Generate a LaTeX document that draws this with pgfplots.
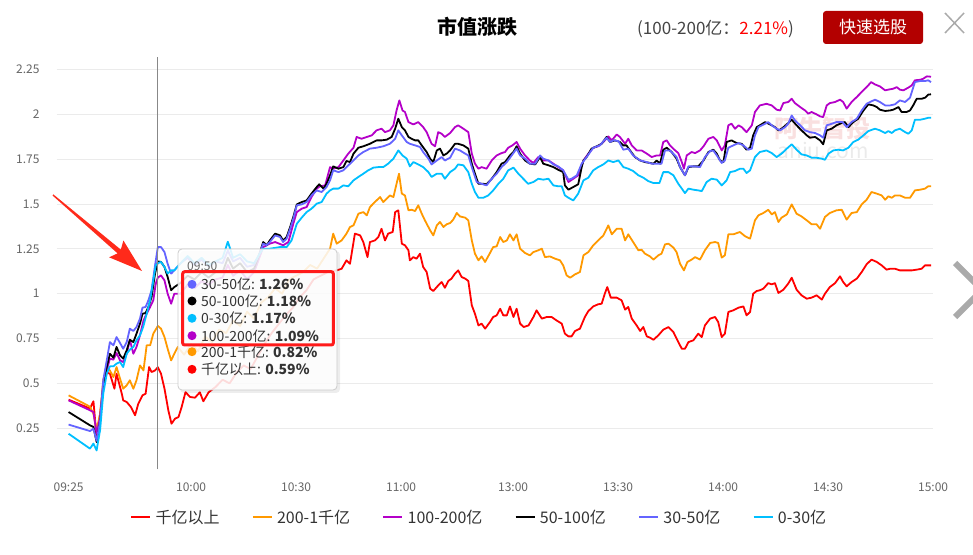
\documentclass[border=0pt]{standalone}
\usepackage{fontspec}
\setmainfont{Noto Sans CJK SC}
\usepackage{pgfplots}
\pgfplotsset{compat=1.18}
\definecolor{sRed}{HTML}{FF0000}
\definecolor{sOrange}{HTML}{FF9900}
\definecolor{sPurple}{HTML}{B400C8}
\definecolor{sBlack}{HTML}{000000}
\definecolor{sBlue}{HTML}{6464FF}
\definecolor{sCyan}{HTML}{00BFFF}
\definecolor{gridgray}{HTML}{EBEBEB}
\definecolor{tickgray}{HTML}{666666}
\definecolor{txtgray}{HTML}{333333}
\definecolor{subgray}{HTML}{444444}
\definecolor{btnred}{HTML}{B30000}
\definecolor{arrowred}{HTML}{FF2A1A}
\definecolor{annored}{HTML}{FF1A1A}
\definecolor{tipborder}{HTML}{CCCCCC}
\definecolor{cursorgray}{HTML}{888888}
\definecolor{closegray}{HTML}{AAAAAA}
\definecolor{wmpink}{HTML}{F9E0E0}
\definecolor{wmgray}{HTML}{EBEBEB}
\newcommand{\fs}[1]{\fontsize{#1}{#1}\selectfont}
\begin{document}
\begin{tikzpicture}[x=1pt,y=1pt]
\useasboundingbox (0,0) rectangle (973,554);
% watermark
\node[text=wmpink, font=\fs{24}\bfseries] at (822,426) {阿牛智投};
\node[text=wmgray, font=\fs{21}] at (823,403) {aniu.com};
\begin{axis}[
  at={(56.7pt,81pt)}, anchor=south west,
  scale only axis, width=876.4pt, height=416pt,
  xmin=-3.4, xmax=247, ymin=0, ymax=2.32,
  axis line style={draw=none}, tick style={draw=none},
  major tick length=0pt,
  ymajorgrids, major grid style={color=gridgray, line width=1pt},
  xtick={0,35,65,95,127,157,187,217,247},
  xticklabels={09:25,10:00,10:30,11:00,13:00,13:30,14:00,14:30,15:00},
  ytick={0.25,0.5,0.75,1,1.25,1.5,1.75,2,2.25},
  yticklabels={0.25,0.5,0.75,1,1.25,1.5,1.75,2,2.25},
  xticklabel style={font=\fs{12}, text=tickgray, inner sep=0pt, yshift=-10pt},
  yticklabel style={font=\fs{12}, text=tickgray, inner sep=0pt, xshift=-17pt},
  legend style={at={(0.482,-0.106)}, anchor=center, legend columns=6, draw=none, fill=none,
    font=\fs{16}, text=txtgray, /tikz/every even column/.append style={column sep=30pt},
    /tikz/every odd column/.append style={column sep=2pt}},
  legend image code/.code={\draw[#1, line width=2.5pt] (0pt,0pt) -- (19pt,0pt);},
  every axis plot/.append style={line width=1.8pt, line join=round, mark=none},
]
\addplot[color=sRed] coordinates {
(0,0.409) (6.1,0.36) (7.1,0.40) (8,0.20) (9,0.33) (9.9,0.48) (10.9,0.56) (11.8,0.554) (13.1,0.47) (13.7,0.554) (15.2,0.442) (15.6,0.405) (16.6,0.396) (17.8,0.368) (19,0.322) (19.9,0.386) (21.1,0.433) (22,0.442) (23,0.591) (23.7,0.563) (24.7,0.572) (25.5,0.59) (26.4,0.554) (27.4,0.47) (28.5,0.349) (29.4,0.275) (30.4,0.303) (31.4,0.312) (32.3,0.368) (33.4,0.451) (34.7,0.424) (36.1,0.42) (37.5,0.45) (38.5,0.40) (40,0.45) (42,0.48) (44,0.52) (46,0.50) (48,0.56) (50,0.60) (52,0.58) (54,0.65) (56,0.72) (58,0.78) (60,0.83) (62,0.88) (64,0.92) (66,0.98) (68,1.02) (70,1.08) (72,1.10) (74,1.12) (76.6,1.13) (78,1.139) (79.4,1.186) (80.4,1.167) (81.8,1.335) (83.3,1.325) (84.2,1.288) (85.4,1.204) (86.1,1.288) (87.5,1.297) (88.5,1.316) (89.4,1.362) (90.4,1.297) (91.3,1.335) (92.6,1.344) (93.3,1.455) (94.2,1.465) (95.2,1.279) (96.1,1.27) (97.1,1.242) (97.5,1.186) (98.5,1.204) (99.4,1.195) (100.4,1.223) (101.3,1.149) (102.3,1.121) (103.3,1.028) (104.2,1.015) (105.6,1.046) (106.6,1.065) (107.5,1.033) (108.5,1.071) (109.4,1.084) (110.4,1.112) (111.3,1.13) (112.3,1.093) (113.3,1.084) (114.2,1.071) (115.2,0.935) (116.1,0.888) (117.1,0.823) (118,0.833) (119,0.805) (120.4,0.842) (121.3,0.87) (122.3,0.879) (123.3,0.916) (124.2,0.879) (125.2,0.879) (126.1,0.929) (127.1,0.87) (128,0.916) (129,0.833) (130,0.814) (131.4,0.823) (132.8,0.87) (133.7,0.907) (135.2,0.861) (136.6,0.87) (138,0.87) (139.4,0.851) (140.9,0.833) (141.8,0.777) (142.8,0.762) (143.7,0.762) (144.7,0.792) (146.1,0.805) (147.5,0.87) (148.5,0.903) (149.9,0.929) (151.3,0.941) (152.3,0.944) (153.2,1.0) (153.9,1.037) (154.9,0.978) (156.6,0.978) (158,0.963) (159,0.911) (159.9,0.926) (160.9,0.861) (162.3,0.823) (163.3,0.792) (164.2,0.814) (165.2,0.762) (166.1,0.755) (167.1,0.743) (168.5,0.768) (169.9,0.799) (171.4,0.814) (172.8,0.786) (174.2,0.73) (175.2,0.693) (176.1,0.693) (177.1,0.73) (178.5,0.74) (179.9,0.777) (180.9,0.758) (181.8,0.823) (183.3,0.861) (184.7,0.87) (185.6,0.842) (186.6,0.758) (187.5,0.777) (188.5,0.898) (189.9,0.907) (191.4,0.922) (192.8,0.929) (193.7,0.879) (194.7,0.898) (195.6,1.0) (196.6,1.015) (197.5,1.019) (198.5,1.028) (199.9,1.059) (200.9,1.052) (201.8,1.059) (202.8,1.004) (204.2,1.022) (205.6,1.056) (206.6,1.089) (208,1.022) (209.4,0.991) (210.9,0.972) (212.3,0.978) (213.7,0.991) (215.2,0.967) (216.1,1.0) (217.5,1.037) (219,1.059) (220.4,1.097) (221.3,1.065) (222.3,1.041) (223.7,1.065) (225.2,1.084) (226.6,1.121) (228,1.164) (229.4,1.19) (230.9,1.177) (232.3,1.158) (233.7,1.134) (234.7,1.139) (236.1,1.139) (237.5,1.13) (239,1.13) (240.9,1.13) (242.3,1.134) (243.7,1.139) (244.7,1.158) (245.6,1.158) (246.4,1.158)
};
\addlegendentry{千亿以上}
\addplot[color=sOrange] coordinates {
(0,0.433) (6.1,0.37) (7.1,0.33) (8,0.24) (9,0.33) (9.9,0.52) (10.9,0.59) (11.8,0.572) (12.8,0.535) (13.7,0.591) (14.7,0.526) (15.6,0.47) (16.6,0.489) (17.5,0.517) (18.5,0.47) (19.4,0.517) (20.4,0.6) (21.4,0.572) (22.3,0.712) (23.3,0.712) (24.2,0.777) (25.5,0.82) (26.4,0.805) (27.4,0.758) (28.3,0.693) (29.3,0.628) (30.2,0.665) (31.2,0.703) (33,0.66) (35,0.72) (37,0.68) (39,0.76) (41,0.73) (43,0.8) (45,0.78) (47,0.85) (49,0.82) (51,0.9) (53,0.86) (55,0.95) (57,0.98) (59,1.03) (61,1.0) (63,1.08) (65,1.1) (67,1.12) (69,1.16) (71,1.14) (73,1.2) (74.7,1.251) (75.6,1.335) (76.6,1.279) (78,1.297) (79.4,1.335) (80.4,1.372) (81.4,1.381) (82.8,1.446) (84.2,1.455) (85.2,1.437) (86.1,1.483) (87.5,1.511) (89,1.539) (89.9,1.511) (90.9,1.53) (91.8,1.548) (92.8,1.539) (93.7,1.613) (94.4,1.669) (95.2,1.558) (96.1,1.548) (97.1,1.465) (98,1.468) (99,1.461) (99.9,1.493) (100.9,1.446) (101.8,1.409) (103.3,1.353) (104.2,1.325) (105.2,1.381) (106.1,1.40) (107.1,1.372) (108,1.387) (109,1.394) (109.9,1.413) (110.9,1.45) (111.8,1.431) (113.3,1.424) (114.2,1.409) (115.2,1.297) (116.1,1.223) (117.1,1.186) (118,1.208) (119,1.177) (120.4,1.227) (121.3,1.26) (122.3,1.264) (123.3,1.316) (124.2,1.288) (125.2,1.297) (126.1,1.331) (127.1,1.297) (128,1.331) (129,1.251) (130.4,1.227) (131.8,1.214) (132.8,1.232) (134.2,1.242) (135.2,1.251) (136.1,1.204) (137.5,1.208) (139,1.195) (140.4,1.186) (141.3,1.158) (142.3,1.102) (143.3,1.089) (144.7,1.108) (146.1,1.121) (147.1,1.214) (148.5,1.232) (149.9,1.27) (151.3,1.297) (152.8,1.325) (154.2,1.381) (155.2,1.331) (156.6,1.362) (158,1.362) (159,1.297) (159.9,1.331) (161.3,1.288) (162.8,1.242) (163.7,1.245) (164.7,1.223) (166.1,1.208) (167.1,1.19) (168.5,1.214) (169.4,1.223) (170.4,1.275) (171.4,1.279) (172.8,1.257) (173.7,1.232) (174.7,1.167) (175.8,1.13) (176.8,1.177) (178,1.19) (179,1.204) (180.4,1.19) (181.8,1.242) (183.3,1.283) (184.7,1.288) (185.6,1.283) (186.6,1.201) (187.5,1.214) (188.5,1.331) (189.9,1.331) (191.8,1.344) (193.3,1.32) (194.7,1.307) (196.1,1.409) (197.1,1.437) (198.5,1.45) (199.9,1.468) (200.9,1.442) (201.8,1.455) (202.8,1.40) (203.7,1.424) (205.2,1.442) (206.6,1.498) (208,1.446) (209.4,1.431) (210.9,1.409) (212.3,1.387) (213.7,1.387) (214.7,1.362) (216.1,1.428) (217.5,1.45) (219.4,1.465) (220.9,1.468) (222.3,1.413) (223.7,1.45) (225.2,1.455) (226.6,1.498) (228,1.524) (229.4,1.567) (230.9,1.558) (232.3,1.548) (233.3,1.524) (234.2,1.543) (235.2,1.535) (236.1,1.548) (237.5,1.548) (239,1.535) (240.4,1.535) (241.8,1.576) (243.3,1.58) (244.7,1.586) (245.6,1.599) (246.4,1.599)
};
\addlegendentry{200-1千亿}
\addplot[color=sPurple] coordinates {
(0,0.405) (6.1,0.35) (7.1,0.34) (8,0.22) (9,0.31) (9.9,0.498) (10.9,0.572) (11.8,0.638) (12.8,0.632) (13.7,0.669) (14.7,0.628) (15.6,0.619) (16.6,0.665) (17.5,0.743) (18.5,0.665) (19.4,0.703) (20.4,0.768) (21.4,0.851) (22.3,0.888) (23.3,0.926) (24.2,0.963) (24.9,1.056) (25.5,1.09) (26.4,1.102) (27.4,1.074) (28.3,1.0) (29.3,0.944) (30.2,1.0) (32,1.0) (34,1.05) (36,1.03) (38,1.07) (40,1.05) (42,1.08) (44,1.09) (45.5,1.16) (47,1.10) (49,1.13) (51,1.08) (53,1.12) (54.5,1.2) (55.6,1.26) (57.5,1.279) (59,1.288) (61.3,1.27) (62.8,1.288) (64.2,1.39) (65.2,1.455) (66.6,1.474) (68,1.483) (69.4,1.539) (70.9,1.586) (71.8,1.599) (73.3,1.604) (74.7,1.706) (75.6,1.697) (77.1,1.706) (78.5,1.743) (79.9,1.781) (81.4,1.814) (82.3,1.874) (83.7,1.864) (85.2,1.874) (86.6,1.883) (88,1.911) (89.4,1.92) (90.4,1.901) (91.8,1.911) (92.8,1.939) (93.7,2.022) (94.5,2.078) (95.4,2.022) (96.1,2.013) (97.1,1.957) (98.5,1.944) (99.9,1.957) (101.3,1.929) (102.3,1.901) (103.7,1.836) (104.7,1.822) (105.6,1.901) (106.6,1.892) (107.5,1.874) (109,1.896) (110.4,1.929) (111.3,1.939) (112.8,1.92) (114.2,1.901) (115.2,1.781) (116.1,1.725) (117.1,1.697) (118,1.706) (119.4,1.697) (120.9,1.743) (122.3,1.771) (123.7,1.784) (124.7,1.79) (125.6,1.814) (126.8,1.827) (128,1.846) (129,1.809) (130.4,1.771) (131.8,1.743) (132.8,1.729) (134.2,1.762) (135.6,1.743) (137.1,1.743) (138.5,1.725) (139.9,1.706) (141.3,1.688) (142.8,1.623) (144.2,1.641) (145.6,1.66) (147.1,1.743) (148.5,1.781) (149.9,1.814) (151.3,1.822) (152.8,1.846) (154.2,1.877) (155.2,1.855) (156.6,1.888) (157.5,1.874) (159,1.836) (159.9,1.864) (160.9,1.827) (162.3,1.799) (163.7,1.799) (165.2,1.781) (166.6,1.762) (168,1.771) (169,1.771) (169.9,1.846) (170.9,1.855) (171.8,1.827) (173.3,1.799) (174.2,1.784) (175.2,1.734) (175.8,1.697) (176.6,1.771) (178,1.79) (179,1.784) (180.4,1.799) (181.4,1.822) (182.8,1.864) (184.2,1.874) (185.2,1.855) (186.6,1.799) (187.5,1.827) (188.5,1.939) (189.4,1.948) (190.4,1.92) (191.4,1.939) (192.3,1.929) (193.7,1.901) (195.2,1.939) (196.1,2.013) (197.5,2.05) (199.4,2.059) (200.9,2.05) (202.3,2.026) (203.3,2.022) (204.2,2.063) (205.6,2.069) (206.6,2.087) (207.5,2.063) (209,2.041) (210.4,2.022) (211.3,2.004) (212.3,2.013) (213.7,2.0) (214.7,1.989) (215.6,1.985) (216.6,2.05) (217.5,2.063) (219,2.069) (220.4,2.082) (221.3,2.069) (222.3,2.032) (223.7,2.069) (225.2,2.097) (226.6,2.125) (228,2.152) (229.3,2.18) (230.4,2.167) (231.8,2.156) (233.3,2.134) (234.2,2.138) (235.6,2.143) (236.6,2.152) (237.5,2.138) (238.5,2.134) (239.9,2.149) (240.9,2.162) (241.8,2.19) (243.3,2.193) (244.2,2.199) (245.2,2.212) (246.4,2.21)
};
\addlegendentry{100-200亿}
\addplot[color=sBlack] coordinates {
(0,0.34) (6.1,0.266) (7.1,0.257) (8,0.173) (9,0.29) (9.9,0.48) (10.9,0.591) (11.8,0.665) (12.8,0.643) (13.7,0.703) (14.7,0.656) (15.6,0.638) (16.6,0.684) (17.5,0.743) (18.5,0.73) (19.4,0.777) (20.4,0.833) (21.1,0.888) (22,0.892) (22.8,0.926) (23.7,0.981) (24.7,1.112) (25.5,1.18) (26.4,1.177) (27.4,1.149) (28.3,1.093) (29.3,1.019) (30.2,1.037) (32,1.06) (34,1.10) (36,1.08) (38,1.12) (40,1.09) (42,1.12) (44,1.12) (45.5,1.20) (47,1.14) (49,1.17) (51,1.12) (53,1.14) (54.5,1.22) (55.6,1.288) (56.6,1.27) (57.5,1.297) (59,1.335) (60.4,1.325) (61.3,1.297) (62.3,1.316) (63.3,1.372) (64.2,1.428) (65.2,1.498) (66.6,1.511) (68,1.52) (69.4,1.558) (70.9,1.595) (71.6,1.61) (72.8,1.586) (73.7,1.613) (74.7,1.66) (75.6,1.71) (77.1,1.697) (78.5,1.706) (79.4,1.74) (80.4,1.734) (81.4,1.781) (82.8,1.814) (84.2,1.822) (86.1,1.836) (88,1.855) (89.4,1.855) (90.9,1.859) (92.3,1.874) (93.3,1.92) (94.2,1.976) (95.2,1.929) (96.1,1.911) (97.1,1.874) (98,1.864) (99,1.855) (99.9,1.855) (100.9,1.827) (102.3,1.79) (103.3,1.753) (104.2,1.734) (105.2,1.799) (106.1,1.809) (107.1,1.771) (108,1.781) (109,1.799) (110.4,1.836) (111.3,1.836) (112.8,1.827) (114.2,1.809) (115.2,1.725) (116.1,1.669) (117.1,1.613) (118.5,1.613) (119.4,1.61) (120.9,1.641) (122.3,1.678) (123.7,1.725) (124.7,1.734) (126.1,1.771) (127.1,1.79) (128,1.822) (129,1.781) (130.4,1.743) (131.8,1.725) (133.3,1.721) (134.7,1.762) (135.6,1.725) (137.1,1.716) (138.5,1.706) (139.9,1.691) (141.3,1.678) (141.8,1.604) (142.8,1.58) (144.2,1.595) (145.6,1.61) (146.6,1.706) (147.1,1.743) (148,1.762) (149.4,1.809) (150.9,1.822) (152.3,1.836) (153.7,1.874) (154.7,1.846) (156.1,1.855) (157.5,1.846) (158.5,1.827) (159.4,1.827) (160.4,1.799) (161.8,1.762) (163.3,1.743) (164.7,1.734) (166.1,1.729) (167.1,1.725) (168,1.743) (169,1.725) (169.9,1.803) (170.9,1.814) (172.3,1.79) (173.7,1.753) (174.7,1.706) (176.1,1.66) (177.1,1.706) (178.5,1.71) (179.9,1.71) (181.4,1.743) (182.8,1.79) (184.2,1.803) (185.2,1.781) (186.1,1.743) (187.1,1.734) (188,1.846) (189.4,1.855) (190.9,1.84) (192.3,1.836) (193.7,1.803) (194.7,1.814) (195.6,1.883) (196.6,1.929) (197.5,1.939) (199,1.957) (200.9,1.939) (201.8,1.929) (202.8,1.911) (203.7,1.92) (205.2,1.944) (206.6,1.97) (208,1.939) (209.4,1.911) (210.9,1.883) (211.8,1.87) (213.3,1.874) (214.7,1.855) (215.6,1.833) (216.6,1.911) (218,1.92) (219.4,1.939) (220.9,1.952) (221.8,1.957) (222.8,1.929) (224.2,1.957) (225.6,1.976) (227.1,2.022) (228.5,2.056) (229.9,2.05) (230.9,2.041) (231.8,2.026) (233.3,2.019) (234.7,2.022) (235.6,2.026) (237.1,2.041) (238,2.013) (239.4,2.013) (240.4,2.022) (241.3,2.05) (242.3,2.087) (243.7,2.087) (244.7,2.093) (245.6,2.11) (246.4,2.112)
};
\addlegendentry{50-100亿}
\addplot[color=sBlue] coordinates {
(0,0.27) (6.1,0.234) (7.1,0.247) (8,0.18) (9,0.29) (9.9,0.517) (10.9,0.628) (11.8,0.73) (12.8,0.712) (13.7,0.758) (14.7,0.725) (15.6,0.693) (16.6,0.73) (17.5,0.805) (18.5,0.792) (19.4,0.814) (20.4,0.861) (21.1,0.922) (22,0.926) (22.8,0.963) (23.7,1.019) (24.7,1.158) (25.5,1.26) (26.4,1.26) (27.4,1.232) (28.3,1.167) (29.3,1.112) (30.2,1.13) (32,1.17) (34,1.2) (36,1.16) (38,1.19) (40,1.15) (42,1.18) (44,1.17) (45.5,1.24) (47,1.18) (49,1.2) (51,1.15) (53,1.16) (54.5,1.22) (55.6,1.279) (56.6,1.27) (57.5,1.288) (59,1.325) (60.4,1.316) (61.3,1.288) (62.3,1.307) (63.3,1.362) (64.2,1.418) (65.2,1.493) (66.6,1.498) (68,1.511) (69.4,1.548) (70.9,1.576) (72.3,1.567) (73.7,1.595) (74.7,1.632) (75.6,1.688) (77.1,1.678) (78.5,1.688) (79.4,1.706) (81.4,1.743) (82.8,1.771) (84.2,1.79) (86.1,1.809) (88,1.814) (89.9,1.822) (91.8,1.836) (93.3,1.864) (94.2,1.911) (95.2,1.883) (96.6,1.846) (97.5,1.836) (99,1.827) (100.4,1.818) (101.3,1.79) (102.8,1.753) (103.7,1.721) (105.2,1.743) (106.6,1.762) (107.5,1.743) (109,1.758) (110.4,1.809) (111.8,1.799) (113.3,1.781) (114.2,1.771) (115.2,1.706) (116.6,1.623) (118,1.613) (119.4,1.604) (120.9,1.641) (122.3,1.669) (123.7,1.706) (125.2,1.734) (126.6,1.771) (128,1.809) (129,1.771) (130.4,1.753) (131.8,1.725) (133.3,1.725) (134.7,1.771) (135.6,1.753) (137.1,1.743) (138.5,1.721) (139.9,1.71) (141.3,1.688) (142.8,1.636) (143.7,1.641) (145.2,1.66) (146.6,1.725) (148,1.762) (149.9,1.814) (151.8,1.827) (153.7,1.87) (154.7,1.846) (155.6,1.855) (157.1,1.851) (158.5,1.803) (159.9,1.809) (161.3,1.771) (163.3,1.743) (165.2,1.734) (166.6,1.725) (168,1.725) (169.4,1.725) (170.4,1.799) (171.8,1.799) (173.7,1.762) (174.7,1.706) (176.1,1.66) (177.1,1.71) (179,1.71) (180.4,1.706) (181.8,1.762) (183.3,1.796) (184.2,1.799) (185.2,1.771) (186.6,1.729) (187.5,1.743) (188.5,1.814) (189.9,1.827) (191.4,1.84) (192.8,1.827) (194.2,1.803) (195.2,1.809) (196.1,1.883) (197.1,1.929) (199,1.948) (199.9,1.957) (200.9,1.939) (202.3,1.92) (203.3,1.911) (204.7,1.929) (205.6,1.948) (206.6,1.994) (207.5,1.967) (209,1.939) (210.4,1.911) (211.8,1.901) (213.3,1.896) (214.7,1.883) (215.6,1.87) (216.6,1.939) (217.5,1.944) (219.4,1.957) (221.1,1.957) (222.3,1.929) (223.7,1.957) (225.2,1.976) (226.6,2.022) (228,2.059) (229,2.069) (230.4,2.082) (231.8,2.069) (233.3,2.05) (234.7,2.05) (236.1,2.056) (237.5,2.078) (239,2.069) (240.4,2.093) (241.8,2.18) (243.3,2.186) (244.7,2.186) (245.6,2.19) (246.4,2.18)
};
\addlegendentry{30-50亿}
\addplot[color=sCyan] coordinates {
(0,0.219) (6.1,0.136) (7.1,0.164) (8,0.126) (9,0.24) (9.9,0.442) (10.9,0.554) (11.8,0.595) (12.8,0.595) (13.7,0.61) (14.7,0.619) (15.6,0.591) (16.6,0.665) (17.5,0.688) (18.5,0.703) (19.4,0.74) (20.4,0.768) (21.3,0.814) (22.3,0.888) (23.3,0.963) (24.2,1.074) (24.9,1.158) (25.5,1.17) (26.4,1.177) (27.4,1.149) (28.3,1.112) (29.3,1.13) (30.2,1.13) (32,1.17) (34,1.21) (36,1.17) (38,1.2) (40,1.16) (42,1.18) (44,1.2) (45.5,1.29) (47,1.2) (49,1.22) (51,1.18) (53,1.17) (54.5,1.22) (55.6,1.251) (57.5,1.251) (60.4,1.26) (62.3,1.26) (63.7,1.297) (65.2,1.39) (66.6,1.424) (68,1.455) (69.4,1.474) (70.9,1.502) (72.3,1.511) (73.7,1.558) (74.7,1.576) (75.6,1.586) (77.1,1.586) (78.5,1.604) (79.9,1.599) (81.4,1.632) (82.8,1.651) (84.2,1.669) (85.6,1.688) (87.1,1.703) (88.5,1.706) (89.9,1.706) (91.3,1.725) (92.8,1.753) (94.2,1.799) (95.4,1.771) (96.6,1.753) (97.5,1.71) (98.5,1.734) (99.9,1.721) (101.3,1.706) (102.8,1.678) (103.7,1.651) (105.2,1.669) (106.6,1.669) (107.5,1.641) (109,1.678) (110.4,1.697) (111.3,1.721) (112.8,1.716) (114.2,1.678) (115.2,1.613) (116.1,1.567) (117.1,1.535) (118.5,1.535) (119.9,1.548) (121.3,1.576) (122.8,1.613) (124.2,1.641) (125.6,1.688) (127.1,1.703) (128.5,1.669) (129.9,1.641) (131.3,1.613) (132.8,1.623) (134.2,1.641) (135.6,1.636) (137.1,1.641) (138.5,1.604) (139.9,1.599) (140.9,1.599) (141.8,1.548) (142.8,1.535) (144.2,1.52) (145.6,1.558) (147.1,1.632) (148.5,1.647) (149.9,1.688) (151.3,1.706) (152.8,1.721) (154.2,1.743) (155.6,1.734) (157.1,1.743) (158.5,1.706) (159.9,1.697) (161.3,1.684) (162.8,1.66) (164.2,1.647) (165.6,1.628) (167.1,1.617) (168.8,1.617) (169.9,1.678) (171.4,1.678) (172.8,1.66) (174.2,1.613) (175.2,1.586) (176.1,1.561) (177.1,1.586) (178.5,1.58) (179.9,1.576) (180.9,1.572) (182.3,1.623) (183.7,1.641) (185.2,1.636) (186.6,1.604) (188,1.632) (189,1.678) (190.4,1.684) (191.8,1.697) (192.8,1.697) (193.7,1.673) (194.7,1.688) (196.1,1.762) (197.5,1.79) (199.4,1.799) (200.9,1.784) (202.3,1.762) (203.7,1.781) (205.2,1.809) (206.6,1.833) (208,1.803) (209.4,1.777) (210.9,1.771) (212.3,1.758) (213.7,1.758) (215.2,1.753) (216.1,1.747) (217.1,1.781) (218.5,1.799) (219.9,1.803) (221.3,1.799) (222.8,1.814) (224.2,1.846) (225.6,1.859) (227.1,1.883) (228.5,1.907) (230.4,1.92) (231.8,1.911) (233.3,1.896) (234.2,1.907) (235.2,1.896) (236.1,1.911) (237.5,1.92) (239,1.901) (239.9,1.892) (240.9,1.911) (241.8,1.97) (243.3,1.97) (244.7,1.976) (245.6,1.981) (246.4,1.981)
};
\addlegendentry{0-30亿}
\draw[color=cursorgray, line width=1.2pt] (axis cs:25.5,0.02) -- (axis cs:25.5,2.32);
\end{axis}
% tooltip
\fill[black, opacity=0.07, rounded corners=4pt] (180,303) rectangle (340,161);
\draw[draw=tipborder, fill=white, fill opacity=0.86, rounded corners=4pt, line width=0.8pt] (178,305) rectangle (337,164);
\node[anchor=west, inner sep=0pt, text=tickgray, font=\fs{12}] at (187,288) {09:50};
\fill[sBlue] (192,269.7) circle (4.5);
\node[anchor=west, inner sep=0pt, text=txtgray, font=\fs{14}] at (201,269.7) {30-50亿: \textbf{1.26\%}};
\fill[sBlack] (192,253) circle (4.5);
\node[anchor=west, inner sep=0pt, text=txtgray, font=\fs{14}] at (201,253) {50-100亿: \textbf{1.18\%}};
\fill[sCyan] (192,235.7) circle (4.5);
\node[anchor=west, inner sep=0pt, text=txtgray, font=\fs{14}] at (201,235.7) {0-30亿: \textbf{1.17\%}};
\fill[sPurple] (192,218.3) circle (4.5);
\node[anchor=west, inner sep=0pt, text=txtgray, font=\fs{14}] at (201,218.3) {100-200亿: \textbf{1.09\%}};
\fill[sOrange] (192,202.3) circle (4.5);
\node[anchor=west, inner sep=0pt, text=txtgray, font=\fs{14}] at (201,202.3) {200-1千亿: \textbf{0.82\%}};
\fill[sRed] (192,184.7) circle (4.5);
\node[anchor=west, inner sep=0pt, text=txtgray, font=\fs{14}] at (201,184.7) {千亿以上: \textbf{0.59\%}};
% red annotation box
\draw[annored, line width=3pt, rounded corners=2pt] (182.7,282.3) rectangle (333.3,209);
% red arrow
\fill[arrowred] (53.5,359.5) -- (120.8,304.4) -- (123.4,313.5) -- (142,283) -- (109.1,296.7) -- (117.6,300.6) -- (52.5,358.5) -- cycle;
% header
\node[font=\fs{20}\bfseries, text=black] at (477,527) {市值涨跌};
\node[anchor=west, inner sep=0pt, font=\fs{17}, text=subgray] at (637,525) {(100-200亿：\textcolor{sRed}{2.21\%})};
\fill[btnred, rounded corners=3pt] (823,543) rectangle (923,510);
\node[text=white, font=\fs{17}] at (873,526.5) {快速选股};
\draw[closegray, line width=1.5pt] (945,541) -- (964,521) (945,521) -- (964,541);
\draw[closegray, line width=6pt] (955,291) -- (982,264) -- (955,237);
\end{tikzpicture}
\end{document}
